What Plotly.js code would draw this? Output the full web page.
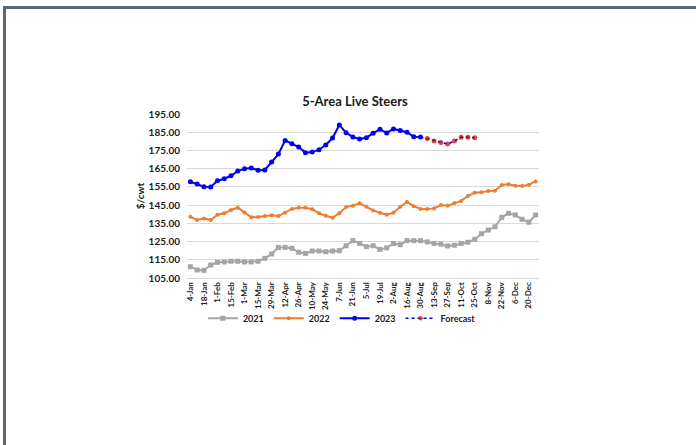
<!DOCTYPE html>
<html>
<head>
<meta charset="utf-8">
<script src="https://cdn.plot.ly/plotly-3.0.1.min.js"></script>
<style>
html,body{margin:0;padding:0;background:#fff;overflow:hidden;}
#wrap{position:relative;width:696px;height:445px;}
#chart{position:absolute;left:0;top:0;width:696px;height:445px;}
#frame{position:absolute;left:3px;top:6px;width:720px;height:460px;border-left:3px solid #5b6670;border-top:3px solid #5b6670;pointer-events:none;}
</style>
</head>
<body>
<div id="wrap"><div id="chart"></div><div id="frame"></div></div>
<script>
const weeks = ["4-Jan","11-Jan","18-Jan","25-Jan","1-Feb","8-Feb","15-Feb","22-Feb","1-Mar","8-Mar","15-Mar","22-Mar","29-Mar","5-Apr","12-Apr","19-Apr","26-Apr","3-May","10-May","17-May","24-May","31-May","7-Jun","14-Jun","21-Jun","28-Jun","5-Jul","12-Jul","19-Jul","26-Jul","2-Aug","9-Aug","16-Aug","23-Aug","30-Aug","6-Sep","13-Sep","20-Sep","27-Sep","4-Oct","11-Oct","18-Oct","25-Oct","1-Nov","8-Nov","15-Nov","22-Nov","29-Nov","6-Dec","13-Dec","20-Dec","27-Dec"];

const tickLabels = ["4-Jan","18-Jan","1-Feb","15-Feb","1-Mar","15-Mar","29-Mar","12-Apr","26-Apr","10-May","24-May","7-Jun","21-Jun","5-Jul","19-Jul","2-Aug","16-Aug","30-Aug","13-Sep","27-Sep","11-Oct","25-Oct","8-Nov","22-Nov","6-Dec","20-Dec"];

const y2021 = [111.2,109.4,109.2,112.1,113.6,113.8,114.2,114.2,113.8,113.8,114.2,115.8,118.2,121.8,121.8,121.3,119.1,118.5,119.8,119.8,119.4,119.8,120.0,122.7,125.5,124.0,122.2,122.7,120.7,121.5,123.9,123.3,125.5,125.5,125.5,124.8,124.0,123.6,122.6,123.0,124.0,124.6,126.2,129.3,131.3,133.1,138.3,140.5,139.6,137.2,135.6,139.6];

const y2022 = [138.6,136.8,137.6,136.8,139.7,140.5,142.3,143.6,141.0,138.3,138.5,139.0,139.4,139.0,140.8,142.9,143.6,143.6,142.7,140.5,139.2,138.1,140.5,143.9,144.7,146.0,144.1,142.1,140.8,139.7,140.8,144.1,146.7,144.4,142.9,142.8,143.2,145.0,144.7,146.2,147.3,150.0,151.8,152.0,152.7,152.9,156.0,156.4,155.6,155.5,156.2,158.0];

const y2023 = [157.8,156.6,155.1,154.9,158.4,159.5,161.1,163.7,165.0,165.4,164.1,164.3,168.7,173.0,180.5,178.7,176.9,173.8,174.1,175.4,178.0,181.8,189.0,184.7,182.4,181.3,182.0,184.5,186.6,184.6,186.8,185.9,185.0,182.5,182.4];

// forecast starts from the last actual week (30-Aug) so the dotted line connects
const forecastWeeks = ["30-Aug","6-Sep","13-Sep","20-Sep","27-Sep","4-Oct","11-Oct","18-Oct","25-Oct"];
const yForecast = [182.4,181.5,180.2,179.3,178.5,180.2,182.2,182.2,182.0];

const fontFam = "Lato, 'Liberation Sans', Arial, sans-serif";

const traces = [
  {x: weeks, y: y2021, name: "2021", type: "scatter", mode: "lines+markers",
   line: {color: "#A5A5A5", width: 2}, marker: {symbol: "square", size: 5, color: "#A5A5A5"}},
  {x: weeks, y: y2022, name: "2022", type: "scatter", mode: "lines+markers",
   line: {color: "#ED7D31", width: 2}, marker: {symbol: "circle", size: 4, color: "#ED7D31"}},
  {x: weeks.slice(0, y2023.length), y: y2023, name: "2023", type: "scatter", mode: "lines+markers",
   line: {color: "#0000F0", width: 2}, marker: {symbol: "circle", size: 5, color: "#0000F0"}},
  {x: forecastWeeks, y: yForecast, name: "Forecast", type: "scatter", mode: "lines+markers",
   line: {color: "#0000F0", width: 1.5, dash: "dot"},
   marker: {symbol: "circle", size: forecastWeeks.map((w, i) => i === 0 ? 0 : 5), color: "#C00000",
            line: {width: 0}}}
];

const layout = {
  width: 696, height: 445,
  paper_bgcolor: "#ffffff", plot_bgcolor: "#ffffff",
  margin: {l: 187, r: 157, t: 114, b: 167, pad: 0},
  font: {family: fontFam, color: "#1a1a1a"},
  title: {text: "5-Area Live Steers", font: {family: fontFam, size: 13, weight: "bold", color: "#1a1a1a"},
          x: 0.51, xref: "container", xanchor: "center", y: 0.772, yref: "container", yanchor: "middle"},
  xaxis: {type: "category", categoryorder: "array", categoryarray: weeks,
          range: [-0.5, weeks.length - 0.5], tickmode: "array", tickvals: tickLabels, ticktext: tickLabels,
          tickangle: -90, tickfont: {family: fontFam, size: 8, weight: "bold", color: "#1a1a1a"},
          showgrid: false, showline: true, linecolor: "#D9D9D9", linewidth: 1, ticks: "", ticklen: 0, zeroline: false},
  yaxis: {range: [105, 195], dtick: 10, tick0: 105, tickformat: ".2f",
          tickfont: {family: fontFam, size: 10, weight: "bold", color: "#1a1a1a"},
          showgrid: true, gridcolor: "#D9D9D9", gridwidth: 1, zeroline: false, showline: false, ticks: "",
          ticklabelstandoff: 6,
          title: {text: "$/cwt", font: {family: fontFam, size: 10, weight: "bold", color: "#1a1a1a"}, standoff: 2}},
  showlegend: true,
  legend: {orientation: "h", x: 0.44, xanchor: "center", y: -0.245, yanchor: "middle",
           font: {family: fontFam, size: 9, weight: "bold", color: "#1a1a1a"}, itemwidth: 30, tracegroupgap: 0,
           bgcolor: "rgba(0,0,0,0)"}
};

Plotly.newPlot("chart", traces, layout, {displayModeBar: false, staticPlot: true});
</script>
</body>
</html>
